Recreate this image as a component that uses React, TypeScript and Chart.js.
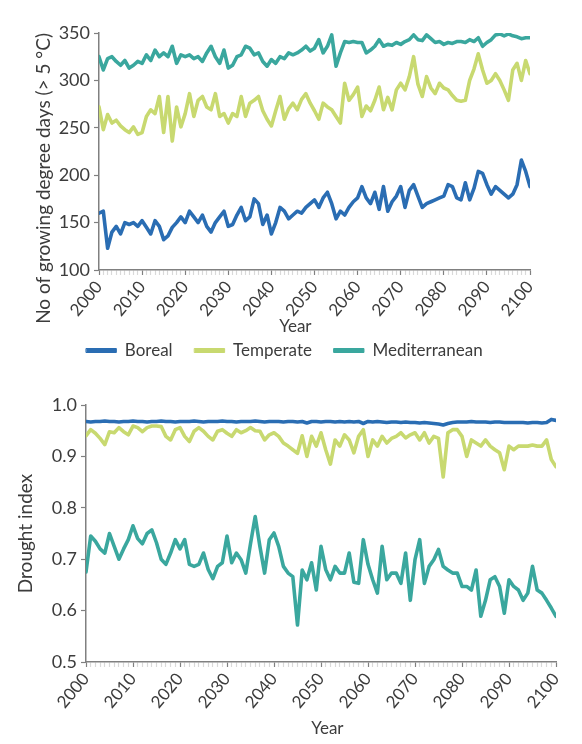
import React, { useEffect, useRef } from "react";
import { Chart, registerables } from "chart.js";

Chart.register(...registerables);

const YEARS = Array.from({ length: 101 }, (_, i) => 2000 + i);
const X_TICKS = [2000, 2010, 2020, 2030, 2040, 2050, 2060, 2070, 2080, 2090, 2100];
const GDD_TICKS = [100, 150, 200, 250, 300, 350];
const DI_TICKS = [0.5, 0.6, 0.7, 0.8, 0.9, 1.0];

const SERIES = ["Boreal", "Temperate", "Mediterranean"];
const COLORS = ["#2a6db3", "#c8d970", "#3aa79e"];

const GDD_BOREAL = [
  160, 162, 123, 140, 146, 138, 150, 148, 150, 146,
  152, 145, 138, 152, 146, 132, 136, 145, 150, 156,
  150, 162, 156, 150, 158, 146, 140, 150, 156, 162,
  146, 148, 158, 166, 152, 156, 175, 170, 148, 158,
  138, 150, 166, 162, 154, 158, 162, 160, 166, 170,
  174, 166, 176, 182, 170, 154, 162, 158, 166, 172,
  176, 188, 176, 170, 182, 164, 188, 162, 172, 178,
  188, 166, 184, 190, 178, 166, 170, 172, 174, 176,
  178, 190, 188, 176, 174, 192, 174, 186, 204, 202,
  190, 180, 188, 184, 180, 176, 180, 190, 216, 204,
  188,
];

const GDD_TEMPERATE = [
  272, 248, 264, 255, 258, 252, 248, 245, 251, 243,
  245, 262, 269, 265, 283, 245, 283, 236, 272, 251,
  265, 286, 262, 279, 283, 272, 269, 286, 262, 265,
  255, 265, 262, 283, 262, 276, 279, 283, 268, 259,
  252, 268, 283, 259, 270, 276, 269, 280, 286, 276,
  268, 259, 276, 272, 269, 262, 255, 297, 279, 285,
  293, 262, 273, 268, 279, 293, 269, 282, 269, 290,
  297, 290, 304, 325, 296, 283, 304, 292, 286, 297,
  292, 290, 284, 279, 278, 279, 300, 312, 328, 311,
  297, 300, 307, 300, 290, 279, 311, 318, 300, 321,
  307,
];

const GDD_MEDITERRANEAN = [
  325, 311, 323, 325, 320, 316, 321, 313, 316, 320,
  318, 327, 321, 332, 325, 329, 325, 336, 318, 327,
  325, 327, 323, 325, 320, 329, 336, 325, 318, 332,
  313, 316, 325, 327, 336, 334, 327, 329, 320, 315,
  322, 318, 325, 323, 329, 327, 329, 332, 336, 331,
  334, 343, 329, 336, 348, 315, 329, 341, 340, 341,
  340, 340, 329, 332, 336, 343, 336, 338, 337, 340,
  338, 341, 343, 348, 343, 342, 348, 344, 340, 341,
  338, 340, 339, 341, 341, 340, 343, 341, 345, 336,
  340, 343, 348, 349, 347, 349, 347, 346, 344, 345,
  345,
];

const DI_BOREAL = [
  0.968, 0.967, 0.968, 0.968, 0.969, 0.968, 0.968, 0.967, 0.968, 0.968,
  0.969, 0.968, 0.968, 0.967, 0.968, 0.968, 0.969, 0.968, 0.968, 0.967,
  0.968, 0.968, 0.968, 0.969, 0.968, 0.967, 0.968, 0.968, 0.968, 0.969,
  0.968, 0.968, 0.967, 0.968, 0.968, 0.968, 0.969, 0.968, 0.967, 0.968,
  0.968, 0.968, 0.967, 0.968, 0.968, 0.967, 0.968, 0.965, 0.968, 0.968,
  0.967, 0.968, 0.968, 0.967, 0.968, 0.967, 0.968, 0.967, 0.968, 0.964,
  0.968, 0.967, 0.968, 0.967, 0.966, 0.967, 0.967, 0.966, 0.967, 0.966,
  0.966, 0.965, 0.966, 0.965, 0.964, 0.963, 0.961, 0.964, 0.966, 0.967,
  0.967, 0.967, 0.968, 0.967, 0.967, 0.967, 0.966, 0.967, 0.967, 0.966,
  0.966, 0.966, 0.966, 0.966, 0.965, 0.966, 0.966, 0.965, 0.966, 0.972,
  0.970,
];

const DI_TEMPERATE = [
  0.940, 0.952, 0.945, 0.935, 0.923, 0.948, 0.946, 0.956, 0.948, 0.942,
  0.959, 0.956, 0.948, 0.956, 0.959, 0.959, 0.958, 0.939, 0.932, 0.952,
  0.956, 0.939, 0.929, 0.949, 0.956, 0.949, 0.939, 0.932, 0.949, 0.952,
  0.945, 0.939, 0.952, 0.946, 0.950, 0.956, 0.950, 0.949, 0.932, 0.942,
  0.946, 0.939, 0.926, 0.920, 0.913, 0.906, 0.940, 0.900, 0.939, 0.920,
  0.946, 0.913, 0.885, 0.932, 0.920, 0.942, 0.932, 0.907, 0.939, 0.952,
  0.900, 0.932, 0.920, 0.939, 0.926, 0.935, 0.939, 0.946, 0.936, 0.942,
  0.946, 0.932, 0.946, 0.926, 0.939, 0.935, 0.860, 0.946, 0.952, 0.952,
  0.939, 0.900, 0.932, 0.926, 0.920, 0.932, 0.920, 0.913, 0.907, 0.874,
  0.920, 0.913, 0.920, 0.920, 0.920, 0.922, 0.920, 0.920, 0.932, 0.894,
  0.880,
];

const DI_MEDITERRANEAN = [
  0.675, 0.745, 0.735, 0.720, 0.712, 0.750, 0.725, 0.700, 0.720, 0.738,
  0.765, 0.740, 0.730, 0.750, 0.757, 0.732, 0.700, 0.690, 0.712, 0.738,
  0.720, 0.738, 0.690, 0.686, 0.690, 0.712, 0.680, 0.662, 0.686, 0.693,
  0.745, 0.693, 0.712, 0.699, 0.673, 0.730, 0.783, 0.725, 0.673, 0.738,
  0.751, 0.725, 0.686, 0.673, 0.666, 0.572, 0.679, 0.660, 0.693, 0.640,
  0.725, 0.680, 0.660, 0.686, 0.673, 0.673, 0.712, 0.655, 0.653, 0.738,
  0.690, 0.660, 0.634, 0.725, 0.660, 0.673, 0.673, 0.653, 0.712, 0.620,
  0.699, 0.738, 0.653, 0.686, 0.699, 0.719, 0.686, 0.679, 0.673, 0.673,
  0.647, 0.647, 0.640, 0.679, 0.589, 0.620, 0.660, 0.666, 0.647, 0.595,
  0.660, 0.647, 0.640, 0.620, 0.634, 0.686, 0.640, 0.634, 0.620, 0.605,
  0.589,
];

const FONT = "Lato, 'Open Sans', 'Liberation Sans', sans-serif";
const TEXT = "#3c3c3c";
const AXIS = "#808080";

type PanelOpts = {
  series: number[][];
  yTicks: number[];
  yTitle: string;
  yTitleAlign: "center" | "end";
  yTitlePad: number;
  yWidth: number;
  xHeight: number;
  xTitle: string;
  xTitlePadBottom: number;
  padRight: number;
  spacerRight: number;
  legend: boolean;
  fmt: (v: number) => string;
};

function buildConfig(o: PanelOpts): any {
  const datasets = SERIES.map((name, k) => ({
    label: name,
    data: YEARS.map((x, i) => ({ x, y: o.series[k][i] })),
    borderColor: COLORS[k],
    backgroundColor: COLORS[k],
    borderWidth: 3.6,
    pointRadius: 0,
    tension: 0,
    borderJoinStyle: "round",
    borderCapStyle: "round",
  }));
  const scales: any = {
    x: {
      type: "linear",
      min: YEARS[0],
      max: YEARS[YEARS.length - 1],
      afterBuildTicks: (s: any) => {
        s.ticks = YEARS.map((v) => ({ value: v }));
      },
      afterFit: (s: any) => {
        s.height = o.xHeight;
      },
      ticks: {
        autoSkip: false,
        minRotation: 50,
        maxRotation: 50,
        padding: 2,
        color: TEXT,
        font: { family: FONT, size: 17 },
        callback: (v: number) => (X_TICKS.includes(v) ? String(v) : ""),
      },
      grid: {
        drawOnChartArea: false,
        drawTicks: true,
        tickLength: 5,
        tickWidth: 1.2,
        tickColor: (c: any) =>
          c.tick && X_TICKS.includes(c.tick.value) ? AXIS : "rgba(0,0,0,0.15)",
      },
      border: { display: true, color: AXIS, width: 1.5 },
      title: {
        display: true,
        text: o.xTitle,
        color: TEXT,
        font: { family: FONT, size: 17 },
        padding: { top: 0, bottom: o.xTitlePadBottom },
      },
    },
    y: {
      type: "linear",
      position: "left",
      min: o.yTicks[0],
      max: o.yTicks[o.yTicks.length - 1],
      afterBuildTicks: (s: any) => {
        s.ticks = o.yTicks.map((v) => ({ value: v }));
      },
      afterFit: (s: any) => {
        s.width = o.yWidth;
      },
      ticks: {
        padding: 4,
        color: TEXT,
        font: { family: FONT, size: 18 },
        callback: (v: number) => o.fmt(v),
      },
      grid: {
        drawOnChartArea: false,
        drawTicks: true,
        tickLength: 5,
        tickWidth: 1.2,
        tickColor: AXIS,
      },
      border: { display: true, color: AXIS, width: 1.5 },
      title: {
        display: true,
        text: o.yTitle,
        align: o.yTitleAlign,
        color: TEXT,
        font: { family: FONT, size: 19 },
        padding: { top: o.yTitlePad, bottom: 0 },
      },
    },
  };
  if (o.spacerRight > 0) {
    scales.spacer = {
      type: "linear",
      position: "right",
      display: true,
      afterFit: (s: any) => {
        s.width = o.spacerRight;
      },
      ticks: { display: false },
      grid: { display: false, drawTicks: false },
      border: { display: false },
    };
  }
  return {
    type: "line",
    data: { datasets },
    options: {
      responsive: false,
      animation: false,
      devicePixelRatio: 1,
      layout: { padding: { top: 33, right: o.padRight, left: 0, bottom: 0 } },
      scales,
      plugins: {
        tooltip: { enabled: false },
        legend: {
          display: o.legend,
          position: "bottom",
          align: "center",
          labels: {
            boxWidth: 30,
            boxHeight: 4,
            padding: 22,
            color: TEXT,
            font: { family: FONT, size: 17 },
            generateLabels: (chart: any) =>
              Chart.defaults.plugins.legend.labels
                .generateLabels(chart)
                .map((l: any) => ({ ...l, lineWidth: 1 })),
          },
        },
      },
    },
  };
}

function Panel({ opts, top, height }: { opts: PanelOpts; top: number; height: number }) {
  const ref = useRef<HTMLCanvasElement | null>(null);
  useEffect(() => {
    if (!ref.current) return;
    const chart = new Chart(ref.current, buildConfig(opts));
    return () => chart.destroy();
  }, []);
  return (
    <canvas
      ref={ref}
      width={582}
      height={height}
      style={{ position: "absolute", left: 0, top, width: 582, height }}
    />
  );
}

const TOP_OPTS: PanelOpts = {
  series: [GDD_BOREAL, GDD_TEMPERATE, GDD_MEDITERRANEAN],
  yTicks: GDD_TICKS,
  yTitle: "No of growing degree days (> 5 °C)",
  yTitleAlign: "end",
  yTitlePad: 32,
  yWidth: 99,
  xHeight: 50,
  xTitle: "Year\u2003\u2003\u2003",
  xTitlePadBottom: -17,
  padRight: 13,
  spacerRight: 39,
  legend: true,
  fmt: (v) => String(v),
};

const BOTTOM_OPTS: PanelOpts = {
  series: [DI_BOREAL, DI_TEMPERATE, DI_MEDITERRANEAN],
  yTicks: DI_TICKS,
  yTitle: "Drought index",
  yTitleAlign: "center",
  yTitlePad: 14,
  yWidth: 86,
  xHeight: 82,
  xTitle: "\u2003Year",
  xTitlePadBottom: 5,
  padRight: 26,
  spacerRight: 0,
  legend: false,
  fmt: (v) => v.toFixed(1),
};

export default function App() {
  return (
    <div
      style={{
        position: "absolute",
        left: 0,
        top: 0,
        width: 582,
        height: 744,
        background: "#ffffff",
        overflow: "hidden",
      }}
    >
      <Panel opts={TOP_OPTS} top={0} height={369} />
      <Panel opts={BOTTOM_OPTS} top={372} height={372} />
    </div>
  );
}
